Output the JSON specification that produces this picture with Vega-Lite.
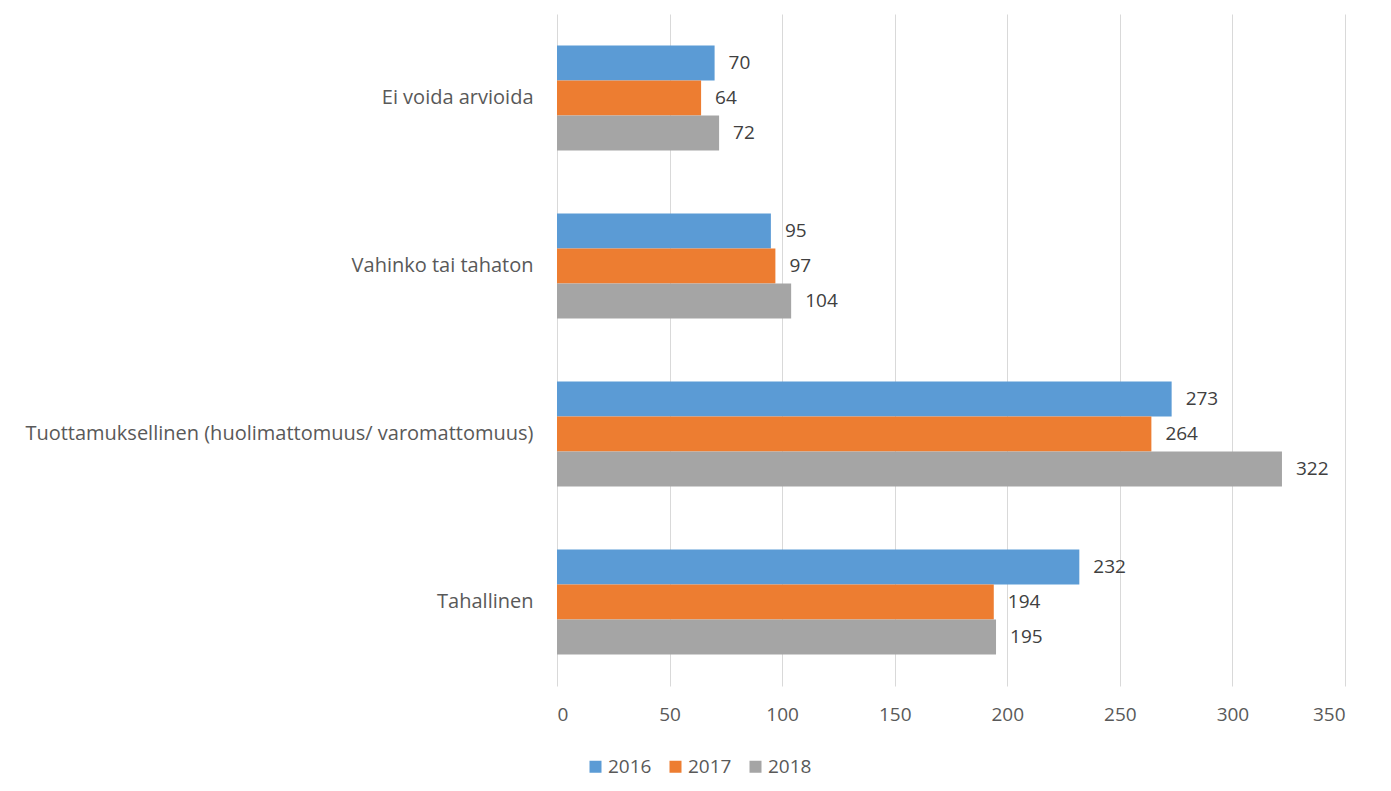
{
  "$schema": "https://vega.github.io/schema/vega-lite/v6.json",
  "width": 788,
  "height": 672,
  "autosize": {"type": "none"},
  "padding": {"left": 557, "top": 14, "right": 46, "bottom": 105},
  "background": "white",
  "data": {
    "values": [
      {"category": "Ei voida arvioida", "year": "2016", "value": 70},
      {"category": "Ei voida arvioida", "year": "2017", "value": 64},
      {"category": "Ei voida arvioida", "year": "2018", "value": 72},
      {"category": "Vahinko tai tahaton", "year": "2016", "value": 95},
      {"category": "Vahinko tai tahaton", "year": "2017", "value": 97},
      {"category": "Vahinko tai tahaton", "year": "2018", "value": 104},
      {"category": "Tuottamuksellinen (huolimattomuus/ varomattomuus)", "year": "2016", "value": 273},
      {"category": "Tuottamuksellinen (huolimattomuus/ varomattomuus)", "year": "2017", "value": 264},
      {"category": "Tuottamuksellinen (huolimattomuus/ varomattomuus)", "year": "2018", "value": 322},
      {"category": "Tahallinen", "year": "2016", "value": 232},
      {"category": "Tahallinen", "year": "2017", "value": 194},
      {"category": "Tahallinen", "year": "2018", "value": 195}
    ]
  },
  "encoding": {
    "y": {
      "field": "category",
      "type": "nominal",
      "sort": ["Ei voida arvioida", "Vahinko tai tahaton", "Tuottamuksellinen (huolimattomuus/ varomattomuus)", "Tahallinen"],
      "scale": {"paddingInner": 0.375, "paddingOuter": 0.1875},
      "axis": {
        "title": null,
        "ticks": false,
        "domain": false,
        "labelFontSize": 20,
        "labelColor": "#595959",
        "labelPadding": 24,
        "labelLimit": 600
      }
    },
    "yOffset": {
      "field": "year",
      "type": "nominal",
      "sort": ["2016", "2017", "2018"],
      "scale": {"paddingInner": 0, "paddingOuter": 0}
    },
    "x": {
      "field": "value",
      "type": "quantitative",
      "scale": {"domain": [0, 350], "nice": false},
      "axis": {
        "title": null,
        "values": [0, 50, 100, 150, 200, 250, 300, 350],
        "grid": true,
        "gridColor": "#D9D9D9",
        "gridWidth": 1,
        "domain": false,
        "ticks": false,
        "labelFontSize": 19,
        "labelColor": "#595959",
        "labelPadding": 19
      }
    }
  },
  "layer": [
    {
      "mark": {"type": "bar"},
      "encoding": {
        "color": {
          "field": "year",
          "type": "nominal",
          "scale": {"domain": ["2016", "2017", "2018"], "range": ["#5B9BD5", "#ED7D31", "#A5A5A5"]},
          "legend": {
            "title": null,
            "orient": "none",
            "direction": "horizontal",
            "legendX": 29,
            "legendY": 743,
            "padding": 0,
            "symbolType": "square",
            "symbolSize": 144,
            "symbolStrokeWidth": 0,
            "symbolOpacity": 1,
            "labelFontSize": 19,
            "labelColor": "#595959",
            "labelOffset": 3,
            "columnPadding": 14
          }
        }
      }
    },
    {
      "mark": {"type": "text", "align": "left", "baseline": "middle", "dx": 14, "fontSize": 19, "color": "#404040"},
      "encoding": {
        "text": {"field": "value", "type": "quantitative"}
      }
    }
  ],
  "config": {
    "font": "Open Sans",
    "view": {"stroke": null}
  }
}
